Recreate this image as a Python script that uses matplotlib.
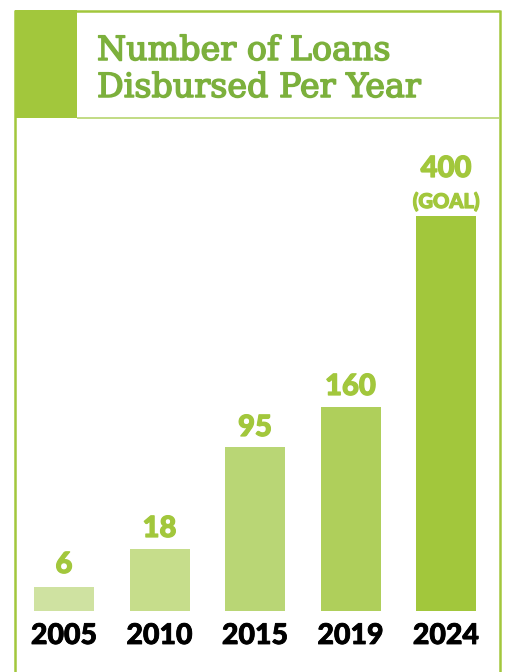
import matplotlib
matplotlib.use("Agg")
import matplotlib.pyplot as plt
import matplotlib.patheffects as pe
from matplotlib.patches import Rectangle

# chart data
years = ["2005", "2010", "2015", "2019", "2024"]
loans = [6, 18, 95, 160, 400]
value_labels = ["6", "18", "95", "160", "400"]
# the infographic bars are not to scale, heights read off the picture (px)
bar_heights = [24, 62, 164, 204, 395]
bar_colors = ["#cfe2a1", "#c6dd8b", "#b9d675", "#afcf5b", "#a2c73c"]
label_gaps = [14, 12, 11, 12, 8]

title_lines = ["Number of Loans", "Disbursed Per Year"]

GREEN = "#a2c73c"
TITLE_GREEN = "#7cb03c"
W, H = 505, 672

fig = plt.figure(figsize=(W / 100, H / 100), dpi=100)

# background axes in pixel coordinates for the frame and title block
bg = fig.add_axes([0, 0, 1, 1])
bg.set_xlim(0, W)
bg.set_ylim(H, 0)
bg.axis("off")

bg.plot([15, 15], [10, H], color=GREEN, lw=1.8, solid_capstyle="butt")
bg.plot([500, 500], [10, H], color=GREEN, lw=1.8, solid_capstyle="butt")
bg.plot([15, 500], [10.5, 10.5], color=GREEN, lw=1.8, solid_capstyle="butt")
bg.plot([77, 500], [118, 118], color="#b7d66f", lw=1.2, solid_capstyle="butt")
bg.add_patch(Rectangle((15, 10), 62, 108, color=GREEN, lw=0))

# regular serif with a thin stroke to get the medium weight of the original
title_fx = [pe.withStroke(linewidth=1.1, foreground=TITLE_GREEN)]
for i, line in enumerate(title_lines):
    bg.text(97, 60 + 37 * i, line, color=TITLE_GREEN, fontsize=24,
            family="DejaVu Serif", va="baseline", ha="left",
            path_effects=title_fx)

# bar axes: 1 data unit = 1 px vertically, bars start at y=611
spacing = 95.5
ax = fig.add_axes([0, (H - 611) / H, 1, 400 / H])
ax.set_xlim(-64 / spacing, 4 + (W - 446) / spacing)
ax.set_ylim(0, 400)
ax.axis("off")

xs = list(range(len(years)))
ax.bar(xs, bar_heights, width=60 / spacing, color=bar_colors, linewidth=0)

num_fx = [pe.withStroke(linewidth=0.9, foreground=GREEN)]
for x, h, lab, gap in zip(xs, bar_heights, value_labels, label_gaps):
    y = h + gap
    if lab == "400":
        ax.text(x, y, "(GOAL)", ha="center", va="baseline", color=GREEN,
                fontsize=14.5, family="Lato", fontweight="black",
                path_effects=num_fx)
        y += 31
    ax.text(x, y, lab, ha="center", va="baseline", color=GREEN,
            fontsize=21, family="Lato", fontweight="black",
            path_effects=num_fx)

year_fx = [pe.withStroke(linewidth=0.6, foreground="black")]
for x, yr in zip(xs, years):
    ax.text(x, -33, yr, ha="center", va="baseline", color="black",
            fontsize=20.5, family="Lato", fontweight="black", clip_on=False,
            path_effects=year_fx)

fig.savefig("out.png", dpi=100)
